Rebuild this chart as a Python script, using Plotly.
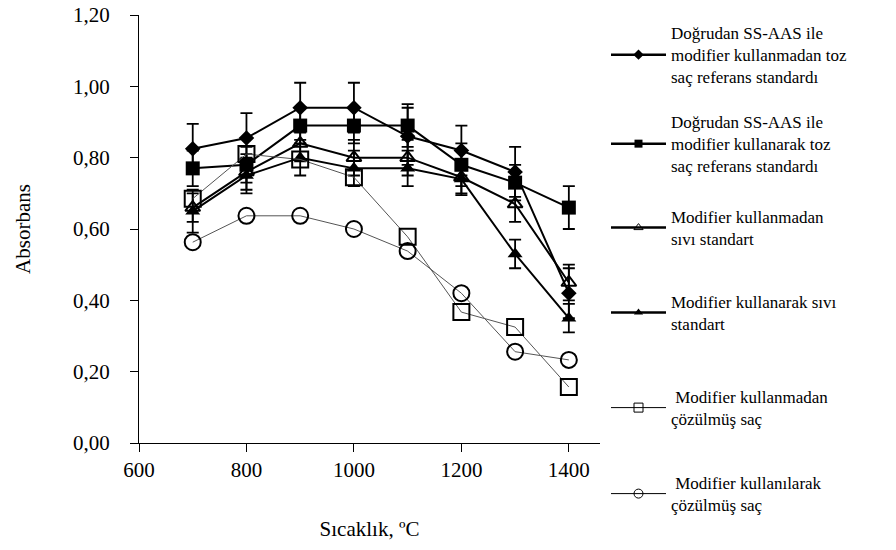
import plotly.graph_objects as go

temps = [700, 800, 900, 1000, 1100, 1200, 1300, 1400]

s1_name = "Doğrudan SS-AAS ile<br>modifier kullanmadan toz<br>saç referans standardı"
s1_vals = [0.825, 0.855, 0.94, 0.94, 0.86, 0.82, 0.76, 0.42]
s1_err = [0.07, 0.07, 0.07, 0.07, 0.08, 0.07, 0.07, 0.07]

s2_name = "Doğrudan SS-AAS ile<br>modifier kullanarak toz<br>saç referans standardı"
s2_vals = [0.77, 0.78, 0.89, 0.89, 0.89, 0.78, 0.73, 0.66]
s2_err = [0.05, 0.05, 0.05, 0.05, 0.06, 0.06, 0.05, 0.06]

s3_name = "Modifier kullanmadan<br>sıvı standart"
s3_vals = [0.66, 0.76, 0.84, 0.80, 0.80, 0.745, 0.67, 0.45]
s3_err = [0.04, 0.05, 0.05, 0.05, 0.05, 0.05, 0.05, 0.05]

s4_name = "Modifier kullanarak sıvı<br>standart"
s4_vals = [0.65, 0.75, 0.80, 0.77, 0.77, 0.74, 0.53, 0.35]
s4_err = [0.06, 0.05, 0.05, 0.05, 0.05, 0.04, 0.04, 0.04]

s5_name = " Modifier kullanmadan<br>çözülmüş saç"
s5_vals = [0.685, 0.81, 0.795, 0.745, 0.578, 0.367, 0.325, 0.157]

s6_name = " Modifier kullanılarak<br>çözülmüş saç"
s6_vals = [0.563, 0.637, 0.637, 0.60, 0.538, 0.42, 0.256, 0.233]

FONT = "Liberation Serif"
fig = go.Figure()

series = [
    (s1_name, s1_vals, s1_err, "diamond", 12, "black", 2, "black"),
    (s2_name, s2_vals, s2_err, "square", 14, "black", 2, "black"),
    (s3_name, s3_vals, s3_err, "triangle-up-open", 13, "black", 2, "black"),
    (s4_name, s4_vals, s4_err, "triangle-up", 13, "black", 2, "black"),
    (s5_name, s5_vals, None, "square-open", 16, "black", 1, "#555555"),
    (s6_name, s6_vals, None, "circle-open", 16, "black", 1, "#555555"),
]
legend_symbol_sizes = [8, 8, 8, 8, 9, 9]
legend_y_px = [15, 104, 199, 284, 379, 465]

plot_top, plot_bottom = 15, 443
for i, (name, vals, err, sym, size, mcol, lw, lcol) in enumerate(series):
    eb = None
    if err is not None:
        eb = dict(type="data", array=err, visible=True, color="black", thickness=1.8, width=6)
    fig.add_trace(go.Scatter(
        x=temps, y=vals, mode="lines+markers", name=name, showlegend=False,
        line=dict(color=lcol, width=lw),
        marker=dict(symbol=sym, size=size, color=mcol, line=dict(color=mcol, width=2 if "open" in sym else 0)),
        error_y=eb,
    ))
    lg = "legend" if i == 0 else f"legend{i+1}"
    fig.add_trace(go.Scatter(
        x=[None], y=[None], mode="lines+markers", name=name, showlegend=True, legend=lg,
        line=dict(color="black", width=lw + 0.5 if lw == 2 else 1),
        marker=dict(symbol=sym, size=legend_symbol_sizes[i], color="black",
                    line=dict(color="black", width=1 if "open" in sym else 0)),
    ))

for i, ypx in enumerate(legend_y_px):
    key = "legend" if i == 0 else f"legend{i+1}"
    fig.update_layout(**{key: dict(
        x=(606 - 139) / 461, xanchor="left", yanchor="top",
        y=(plot_bottom - ypx) / (plot_bottom - plot_top),
        font=dict(family=FONT, size=17, color="black"),
        bgcolor="rgba(0,0,0,0)", itemwidth=55, borderwidth=0,
    )})

fig.update_layout(
    width=896, height=550,
    margin=dict(l=139, r=296, t=15, b=107, autoexpand=False),
    plot_bgcolor="white", paper_bgcolor="white",
    separators=",.",
    font=dict(family=FONT, size=21, color="black"),
    xaxis=dict(
        range=[600, 1458], tickvals=[600, 800, 1000, 1200, 1400],
        showline=True, linecolor="black", linewidth=1.2, ticks="outside", ticklen=8,
        tickcolor="black", showgrid=False, zeroline=False,
        tickfont=dict(family=FONT, size=21, color="black"),
        title=dict(text="Sıcaklık, ºC", font=dict(family=FONT, size=21, color="black"), standoff=40),
    ),
    yaxis=dict(
        range=[0, 1.2], tickvals=[0, 0.2, 0.4, 0.6, 0.8, 1.0, 1.2], tickformat=".2f",
        showline=True, linecolor="black", linewidth=1.2, ticks="outside", ticklen=8,
        tickcolor="black", showgrid=False, zeroline=False, ticklabelstandoff=16,
        tickfont=dict(family=FONT, size=21, color="black"),
        title=dict(text="Absorbans", font=dict(family=FONT, size=21, color="black"), standoff=36),
    ),
)

fig.write_html("out.html")
